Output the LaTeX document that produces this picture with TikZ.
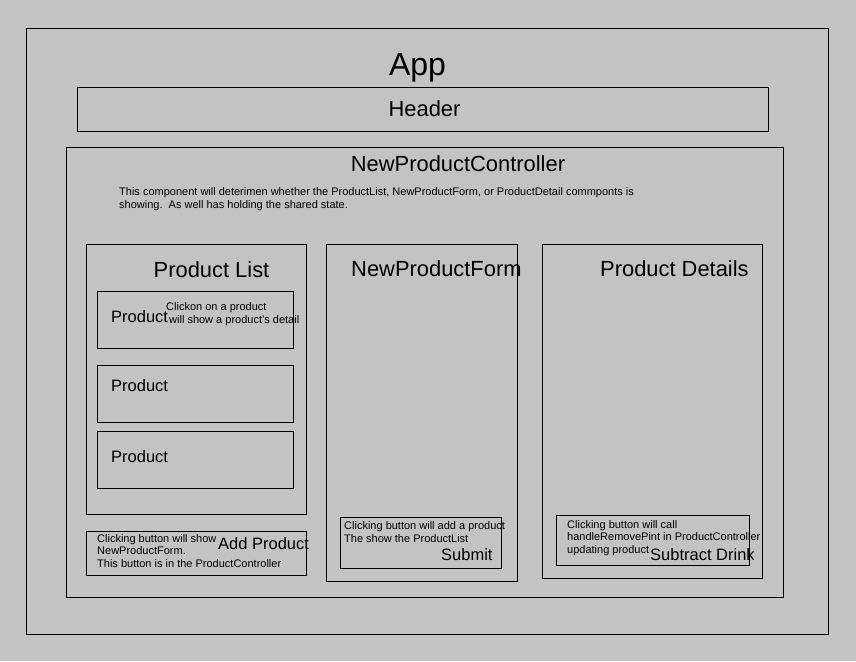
\documentclass[tikz,border=0pt]{standalone}
\usepackage{fontspec}
\setmainfont{Liberation Sans}
\definecolor{canvas}{HTML}{C3C3C3}
\begin{document}
\begin{tikzpicture}[x=1pt,y=-1pt,
  box/.style={draw=black, line width=1pt, rectangle, inner sep=0pt, anchor=north west},
  title/.style={inner sep=0pt, font=\fontsize{21.9}{26}\selectfont},
  label/.style={inner sep=0pt, anchor=base west, font=\fontsize{16.5}{19}\selectfont},
  note/.style={inner sep=0pt, anchor=base west, align=left, font=\fontsize{11}{12.8}\selectfont}]
  \fill[canvas] (0,0) rectangle (856,661);
  \useasboundingbox (0,0) rectangle (856,661);

  % outer App frame and Header bar
  \node[box, minimum width=802pt, minimum height=606pt] (app) at (26,28) {};
  \node[inner sep=0pt, anchor=base, font=\fontsize{32}{36}\selectfont] (apptitle) at (417.5,75.5) {App};
  \node[box, minimum width=691pt, minimum height=44pt] (header) at (77,87) {};
  \node[title, anchor=base] (headertitle) at (424.5,116.8) {Header};

  % controller (multi-line notes are placed by the baseline of their last line)
  \node[box, minimum width=717pt, minimum height=450pt] (ctrl) at (66,147) {};
  \node[title, anchor=base] (ctrltitle) at (458,171.8) {NewProductController};
  \node[note] (ctrlnote) at (119,208) {This component will deterimen whether the ProductList, NewProductForm, or ProductDetail commponts is\\showing.\ \ As well has holding the shared state.};

  % product list column
  \node[box, minimum width=220pt, minimum height=270pt] (list) at (86,244) {};
  \node[title, anchor=base] (listtitle) at (211.5,277) {Product List};
  \node[box, minimum width=196pt, minimum height=57pt] (prodA) at (97,291) {};
  \node[box, minimum width=196pt, minimum height=57pt] (prodB) at (97,365) {};
  \node[box, minimum width=196pt, minimum height=57pt] (prodC) at (97,431) {};
  \node[label] (prodAtxt) at (111,322) {Product};
  \node[label] (prodBtxt) at (111,391) {Product};
  \node[label] (prodCtxt) at (111,462) {Product};
  \node[note] (clicknote) at (166,323) {Clickon on a product\\\hspace{3pt}will show a product's detail};

  % add product button
  \node[box, minimum width=220pt, minimum height=44pt] (addbtn) at (86,531) {};
  \node[note, font=\fontsize{11}{12.5}\selectfont] (addnote) at (97,567) {Clicking button will show\\NewProductForm.\\This button is in the ProductController};
  \node[label] (addtxt) at (218,549) {Add Product};

  % new product form column
  \node[box, minimum width=191pt, minimum height=337pt] (form) at (326,244) {};
  \node[title, anchor=base west] (formtitle) at (351,276) {NewProductForm};
  \node[box, minimum width=161pt, minimum height=51pt] (submit) at (340,517) {};
  \node[note] (submitnote) at (344,542) {Clicking button will add a product\\The show the ProductList};
  \node[label] (submittxt) at (441,560) {Submit};

  % product details column
  \node[box, minimum width=220pt, minimum height=334pt] (details) at (542,244) {};
  \node[title, anchor=base west] (detailstitle) at (600,276) {Product Details};
  \node[box, minimum width=193pt, minimum height=50pt] (subtract) at (556,515) {};
  \node[note, font=\fontsize{11}{12.5}\selectfont] (subtractnote) at (567,553) {Clicking button will call\\handleRemovePint in ProductController\\updating product};
  \node[label] (subtracttxt) at (650,560) {Subtract Drink};
\end{tikzpicture}
\end{document}
